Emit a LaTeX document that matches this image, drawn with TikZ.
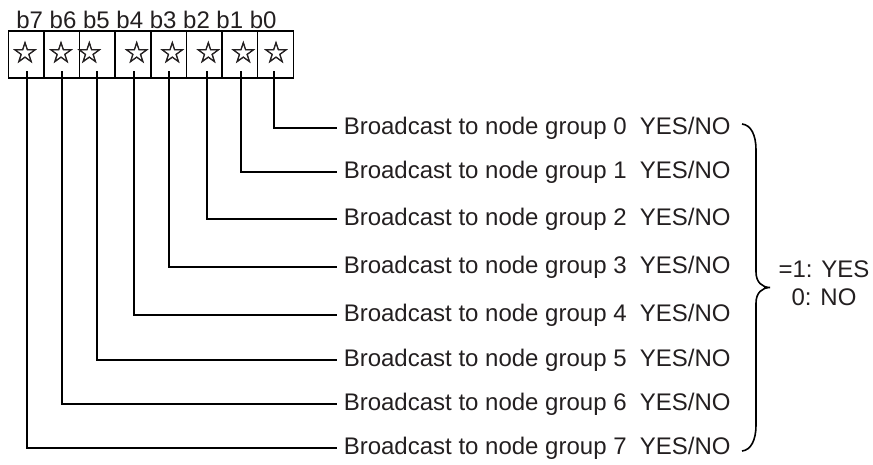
\documentclass[tikz,border=0pt]{standalone}
\usepackage{fontspec}
\setmainfont{Liberation Sans}
\newfontfamily\symfont[FakeBold=1.6]{DejaVu Sans}
\definecolor{ink}{RGB}{35,31,32}
\begin{document}
\begin{tikzpicture}[x=0.75pt,y=-0.75pt,line width=1.2pt,
  cell/.style={draw, minimum width=26.72pt, minimum height=35.25pt, inner sep=0pt},
  starmark/.style={font=\symfont\fontsize{22}{22}\selectfont, inner sep=0pt, text=ink},
  txt/.style={font=\fontsize{18}{21}\selectfont, text=ink},
  grouplabel/.style={txt, anchor=west, inner xsep=4.5pt, inner ysep=0pt}]
\useasboundingbox (0,0) rectangle (873,464);

% register cells, bit 0 on the right
\foreach \i in {0,...,7}
  \node[cell] (c\i) at ({275.5-35.625*\i},54.5) {};

% bit names above the register
\node[txt, inner sep=0pt] (bits) at (146.5,19.5) {b7 b6 b5 b4 b3 b2 b1 b0};

% star marks in the cells
\foreach \i/\x in {0/276,1/243.3,2/208.3,3/172.3,4/136.7,5/89.3,6/61,7/25}
  \node[starmark] (s\i) at (\x,52) {☆};

% group descriptions and their leads from the bits
\foreach \i/\x/\y in {0/274/128,1/241/172,2/207/219,3/169/267,4/134/315,5/97/360,6/62/404,7/27/448}{
  \node[grouplabel] (g\i) at (337,\y) {Broadcast to node group \i\ \ YES/NO};
  \coordinate (t\i) at (\x,71);
  \draw (t\i) |- (g\i.west);
}

% brace and meaning
\draw (742,124) .. controls (751,125) and (756,135) .. (756,150)
  -- (756,272) .. controls (756,282) and (762,287.5) .. (770,287.5)
  .. controls (762,287.5) and (756,293) .. (756,303)
  -- (756,425) .. controls (756,440) and (751,450) .. (742,451);
\node[txt, align=center, inner sep=0pt] (meaning) at (824,283) {=1: YES\\0: NO};
\end{tikzpicture}
\end{document}
